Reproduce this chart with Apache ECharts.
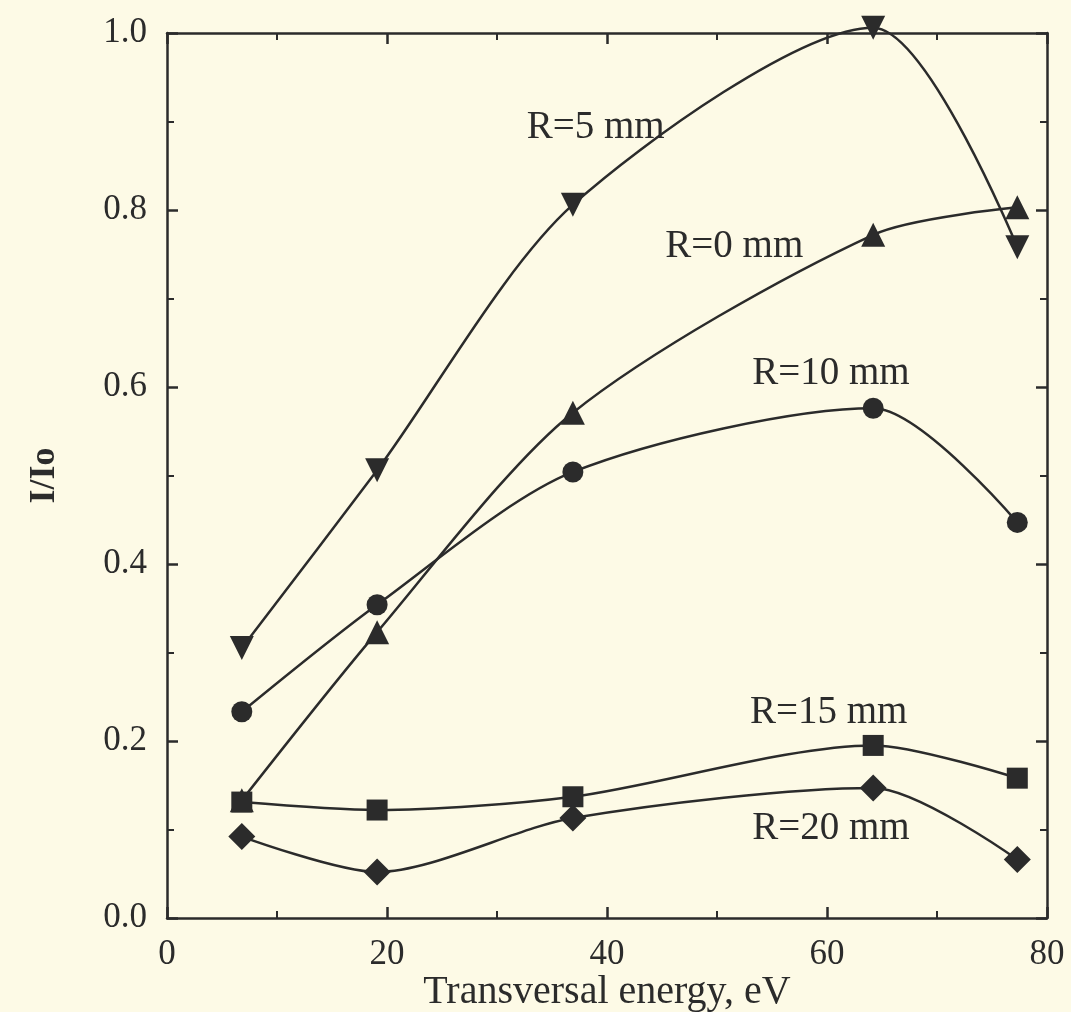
<!DOCTYPE html>
<html><head><meta charset="utf-8">
<script src="https://cdn.jsdelivr.net/npm/echarts@6/dist/echarts.min.js"></script>
<style>html,body{margin:0;padding:0;background:#fdfae6;}#c{width:1071px;height:1012px;}</style>
</head><body><div id="c"></div>
<script>
const energy = [6.8, 19.1, 36.9, 64.2, 77.3];
const r0  = [0.133, 0.323, 0.571, 0.772, 0.803];
const r5  = [0.305, 0.506, 0.806, 1.006, 0.758];
const r10 = [0.233, 0.354, 0.504, 0.576, 0.447];
const r15 = [0.131, 0.122, 0.137, 0.195, 0.158];
const r20 = [0.092, 0.052, 0.113, 0.147, 0.066];
const xTicks = [0, 20, 40, 60, 80];
const yTicks = ['0.0','0.2','0.4','0.6','0.8','1.0'];
const labels = [
  {text:'R=5 mm', x:32.7, y:0.893},
  {text:'R=0 mm', x:45.3, y:0.758},
  {text:'R=10 mm', x:53.2, y:0.615},
  {text:'R=15 mm', x:53.0, y:0.232},
  {text:'R=20 mm', x:53.2, y:0.101}
];

const ink = '#2b2b2b';
const font = '"Liberation Serif","DejaVu Serif",serif';
const chart = echarts.init(document.getElementById('c'));
function mk(name, vals, symbol, size, rotate){
  return {name, type:'line', data: energy.map((e,i)=>[e, vals[i]]), smooth:0.28,
    symbol, symbolSize:size, symbolRotate:rotate||0, showAllSymbol:true, clip:false,
    lineStyle:{color:ink, width:2.5}, itemStyle:{color:ink, borderWidth:0}, z:3};
}
function axisCommon(){
  return {
    axisLine:{show:true, onZero:false, lineStyle:{color:ink, width:2.5}},
    axisTick:{show:true, inside:true, length:11, lineStyle:{color:ink, width:2.5}},
    minorTick:{show:true, splitNumber:2, length:7, lineStyle:{color:ink, width:2}},
    splitLine:{show:false}, minorSplitLine:{show:false}
  };
}
chart.setOption({
  backgroundColor:'#fdfae6',
  animation:false,
  grid:{left:167, top:33, right:24, bottom:94, containLabel:false, outerBoundsMode:'none'},
  xAxis:[
    Object.assign({type:'value', min:0, max:80, interval:20, position:'bottom',
      axisLabel:{color:ink, fontFamily:font, fontSize:35, margin:19,
        formatter:v=>xTicks.includes(v)?String(v):''},
      name:'Transversal energy, eV', nameLocation:'middle', nameGap:54, nameMoveOverlap:false,
      nameTextStyle:{color:ink, fontFamily:font, fontSize:40}}, axisCommon()),
    Object.assign({type:'value', min:0, max:80, interval:20, position:'top',
      axisLabel:{show:false}}, axisCommon())
  ],
  yAxis:[
    Object.assign({type:'value', min:0, max:1, interval:0.2, position:'left',
      axisLabel:{color:ink, fontFamily:font, fontSize:35, margin:20,
        formatter:v=>yTicks[Math.round(v*5)]},
      name:'I/Io', nameLocation:'middle', nameGap:104, nameRotate:90, nameMoveOverlap:false,
      nameTextStyle:{color:ink, fontFamily:font, fontSize:36, fontWeight:'bold'}}, axisCommon()),
    Object.assign({type:'value', min:0, max:1, interval:0.2, position:'right',
      axisLabel:{show:false}}, axisCommon())
  ],
  series:[
    mk('R=5 mm', r5, 'triangle', 24, 180),
    mk('R=0 mm', r0, 'triangle', 24, 0),
    mk('R=10 mm', r10, 'circle', 21),
    mk('R=15 mm', r15, 'rect', 21),
    mk('R=20 mm', r20, 'diamond', 27)
  ]
});
const gr = labels.map(l=>{
  const p = chart.convertToPixel({xAxisIndex:0, yAxisIndex:0}, [l.x, l.y]);
  return {type:'text', x:p[0], y:p[1], style:{text:l.text, fill:ink, font:'39px '+font, textAlign:'left', textVerticalAlign:'middle'}, z:10};
});
chart.setOption({graphic:gr});
</script></body></html>
